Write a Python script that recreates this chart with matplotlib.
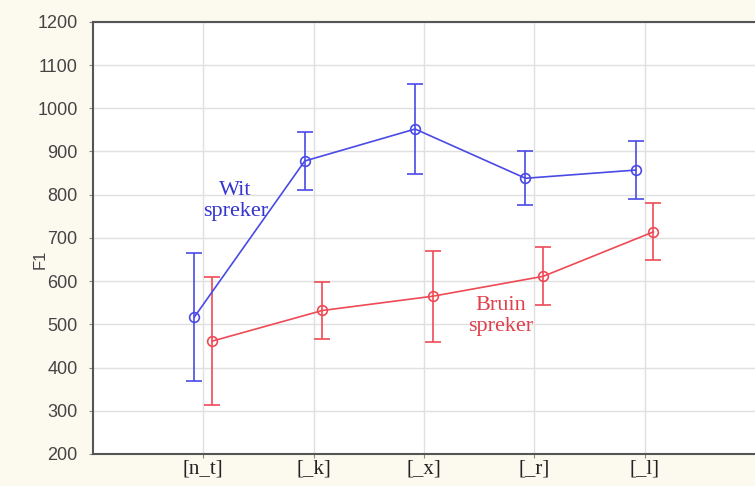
import numpy as np
import matplotlib
matplotlib.use("Agg")
import matplotlib.pyplot as plt

categories = ["[n_t]", "[_k]", "[_x]", "[_r]", "[_l]"]
wit_mean = [517, 878, 952, 838, 857]
wit_err = [149, 67, 105, 62, 67]
bruin_mean = [461, 532, 565, 611, 714]
bruin_err = [148, 67, 105, 67, 66]

fig = plt.figure(figsize=(7.55, 4.86), dpi=100, facecolor="#fcf9ef")
ax = fig.add_axes([0.123, 0.066, 0.877, 0.889])
ax.set_facecolor("white")

x = np.arange(1, len(categories) + 1)
blue = "#4a4ae6"
red = "#ee4a55"

ax.errorbar(x - 0.08, wit_mean, yerr=wit_err, color=blue, lw=1.2,
            marker="o", ms=7, mfc="none", mec=blue, mew=1.2,
            capsize=6, capthick=1.2, elinewidth=1.2)
ax.errorbar(x + 0.08, bruin_mean, yerr=bruin_err, color=red, lw=1.2,
            marker="o", ms=7, mfc="none", mec=red, mew=1.2,
            capsize=6, capthick=1.2, elinewidth=1.2)

ax.text(1.29, 785, "Wit\nspreker", color="#3434d0", fontsize=16,
        family="Liberation Serif", ha="center", va="center", linespacing=1.15)
ax.text(3.7, 520, "Bruin\nspreker", color="#e0404c", fontsize=16,
        family="Liberation Serif", ha="center", va="center", linespacing=1.15)

ax.set_xlim(0, 6)
ax.set_ylim(200, 1200)
ax.set_yticks(np.arange(200, 1201, 100))
ax.set_xticks(x)
ax.set_xticklabels(categories, family="Liberation Serif", fontsize=15, color="#222222")
ax.tick_params(axis="y", labelsize=13, labelcolor="#444444", length=3, color="#888888", pad=8)
ax.tick_params(axis="x", length=3, color="#888888", pad=1)
for lab in ax.get_yticklabels():
    lab.set_family("Liberation Sans")
ax.set_ylabel("F1", family="Liberation Sans", fontsize=12, color="#444444")
ax.yaxis.set_label_coords(-0.068, 0.45)

ax.grid(True, color="#e0e0e0", lw=1)
ax.set_axisbelow(True)
for s in ["left", "bottom", "top"]:
    ax.spines[s].set_color("#555555")
    ax.spines[s].set_linewidth(1.5)
ax.spines["right"].set_visible(False)

fig.savefig("out.png", dpi=100, facecolor=fig.get_facecolor())
